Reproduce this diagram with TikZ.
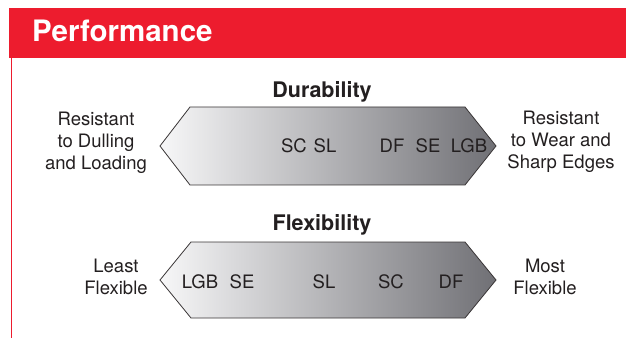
\documentclass[tikz,border=0pt]{standalone}
\usepackage{fontspec}
\setmainfont{TeX Gyre Heros}
\usepackage{xcolor}
\usepackage{tikz}
\definecolor{headerred}{RGB}{237,28,46}
\definecolor{inktext}{RGB}{35,31,32}
\definecolor{shadelight}{RGB}{247,247,248}
\definecolor{shadedark}{RGB}{112,112,117}

\begin{document}
\begin{tikzpicture}[
  x=1pt, y=-1pt,
  hexband/.style={draw=inktext!90, line width=0.8pt, left color=shadelight, right color=shadedark},
  grade/.style={anchor=base, text=inktext, inner sep=0pt, font=\fontsize{18.5}{22}\selectfont},
  sidetext/.style={text=inktext, align=center, inner sep=0pt, font=\fontsize{18.5}{22}\selectfont},
  heading/.style={anchor=base, text=inktext, inner sep=0pt, font=\fontsize{21.5}{24}\selectfont\bfseries}
]
\useasboundingbox (0,0) rectangle (626,339);
% header bar
\fill[headerred] (9,8) rectangle (626,58);
\node[anchor=base west, text=white, inner sep=0pt, font=\fontsize{29.5}{32}\selectfont\bfseries] (title) at (32,42) {Performance};
\draw[headerred, line width=1.4pt] (11.5,58) -- (11.5,338);

% durability
\node[heading] (durhead) at (322,98) {Durability};
\path[hexband] (160,146) -- (190,107) -- (465,107) -- (496,146) -- (465,185) -- (190,185) -- cycle;
\node[sidetext] (durleft) at (96,143) {Resistant\\to Dulling\\and Loading};
\node[sidetext] (durright) at (561,142) {Resistant\\to Wear and\\Sharp Edges};
\node[grade] (dsc) at (294,153) {SC};
\node[grade] (dsl) at (325,153) {SL};
\node[grade] (ddf) at (392,153) {DF};
\node[grade] (dse) at (428,153) {SE};
\node[grade] (dlgb) at (469,153) {LGB};

% flexibility
\node[heading] (flexhead) at (322,230) {Flexibility};
\path[hexband] (160,280) -- (191,242) -- (465,242) -- (496,280) -- (465,318) -- (191,318) -- cycle;
\node[sidetext] (flexleft) at (116,277) {Least\\Flexible};
\node[sidetext] (flexright) at (545,277) {Most\\Flexible};
\node[grade] (flgb) at (200,288) {LGB};
\node[grade] (fse) at (242,288) {SE};
\node[grade] (fsl) at (324,288) {SL};
\node[grade] (fsc) at (391,288) {SC};
\node[grade] (fdf) at (451,288) {DF};
\end{tikzpicture}
\end{document}
